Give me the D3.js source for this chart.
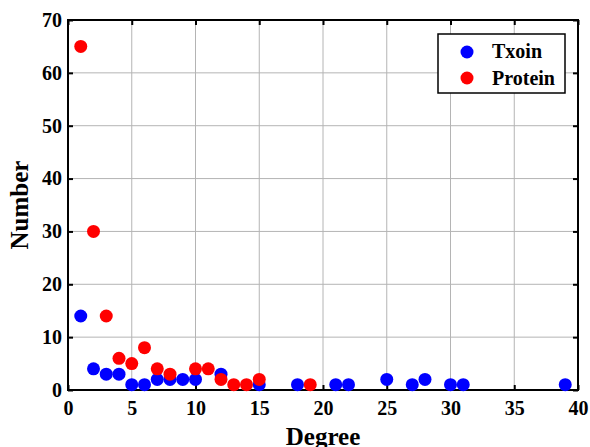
<!DOCTYPE html>
<html>
<head>
<meta charset="utf-8">
<script src="https://cdn.jsdelivr.net/npm/d3@7"></script>
<style>
  body { margin: 0; background: #fff; }
  text { font-family: "Liberation Serif", "Times New Roman", serif; font-weight: bold; }
</style>
</head>
<body>
<script>
var xTicks = [0, 5, 10, 15, 20, 25, 30, 35, 40]
var yTicks = [0, 10, 20, 30, 40, 50, 60, 70]

var txoinDegree = [1, 2, 3, 4, 5, 6, 7, 8, 9, 10, 12, 15, 18, 21, 22, 25, 27, 28, 30, 31, 39]
var txoinNumber = [14, 4, 3, 3, 1, 1, 2, 2, 2, 2, 3, 1, 1, 1, 1, 2, 1, 2, 1, 1, 1]

var proteinDegree = [1, 2, 3, 4, 5, 6, 7, 8, 10, 11, 12, 13, 14, 15, 19]
var proteinNumber = [65, 30, 14, 6, 5, 8, 4, 3, 4, 4, 2, 1, 1, 2, 1]

var series = [
  {name: "Txoin", color: "#0000ff", x: txoinDegree, y: txoinNumber},
  {name: "Protein", color: "#ff0000", x: proteinDegree, y: proteinNumber}
]

var margin = {top: 20, right: 12, bottom: 57, left: 68}
var width = 590 - margin.left - margin.right
var height = 447 - margin.top - margin.bottom

var svg = d3.select("body").append("svg")
    .attr("width", 590)
    .attr("height", 447)
  .append("g")
    .attr("transform", "translate(" + margin.left + "," + margin.top + ")")

var x = d3.scaleLinear().domain([0, 40]).range([0, width])
var y = d3.scaleLinear().domain([0, 70]).range([height, 0])

// grid
svg.append("g").selectAll("line").data(xTicks.slice(1, -1)).enter().append("line")
    .attr("x1", x).attr("x2", x).attr("y1", 0).attr("y2", height)
    .attr("stroke", "#b4b4b4").attr("stroke-width", 1)
svg.append("g").selectAll("line").data(yTicks.slice(1, -1)).enter().append("line")
    .attr("y1", y).attr("y2", y).attr("x1", 0).attr("x2", width)
    .attr("stroke", "#b4b4b4").attr("stroke-width", 1)

// axes, ticks pointing inward
var xAxis = d3.axisBottom(x).tickValues(xTicks).tickSizeInner(-5).tickSizeOuter(0).tickPadding(11)
var yAxis = d3.axisLeft(y).tickValues(yTicks).tickSizeInner(-5).tickSizeOuter(0).tickPadding(6)

svg.append("g").attr("class", "x axis")
    .attr("transform", "translate(0," + height + ")")
    .call(xAxis)
svg.append("g").attr("class", "y axis").call(yAxis)
svg.append("g").attr("transform", "translate(0,0)")
    .call(d3.axisTop(x).tickValues(xTicks).tickSizeInner(-5).tickSizeOuter(0).tickFormat(""))
svg.append("g").attr("transform", "translate(" + width + ",0)")
    .call(d3.axisRight(y).tickValues(yTicks).tickSizeInner(-5).tickSizeOuter(0).tickFormat(""))

svg.selectAll(".domain").remove()
svg.selectAll(".tick line").attr("stroke", "#000").attr("stroke-width", 2)
svg.selectAll(".tick text").attr("fill", "#000").style("font-size", "20px")

svg.append("rect")
    .attr("width", width).attr("height", height)
    .attr("fill", "none").attr("stroke", "#000").attr("stroke-width", 2)

// points
series.forEach(function(s){
  svg.append("g").selectAll("circle").data(s.x).enter().append("circle")
      .attr("cx", function(d){ return x(d) })
      .attr("cy", function(d, i){ return y(s.y[i]) })
      .attr("r", 6.5)
      .attr("fill", s.color)
})

// axis titles
svg.append("text")
    .attr("x", width / 2).attr("y", height + 55)
    .attr("text-anchor", "middle")
    .style("font-size", "25px")
    .text("Degree")

svg.append("text")
    .attr("transform", "translate(-40," + (height / 2) + ") rotate(-90)")
    .attr("text-anchor", "middle")
    .style("font-size", "25px")
    .text("Number")

// legend
var leg = svg.append("g").attr("transform", "translate(" + (width - 140) + ",14)")
leg.append("rect")
    .attr("width", 127).attr("height", 59)
    .attr("fill", "#fff").attr("stroke", "#000").attr("stroke-width", 1.5)
series.forEach(function(s, i){
  leg.append("circle").attr("cx", 29).attr("cy", 18 + i * 26).attr("r", 6.5).attr("fill", s.color)
  leg.append("text").attr("x", 54).attr("y", 24 + i * 27)
      .style("font-size", "20px").text(s.name)
})
</script>
</body>
</html>
